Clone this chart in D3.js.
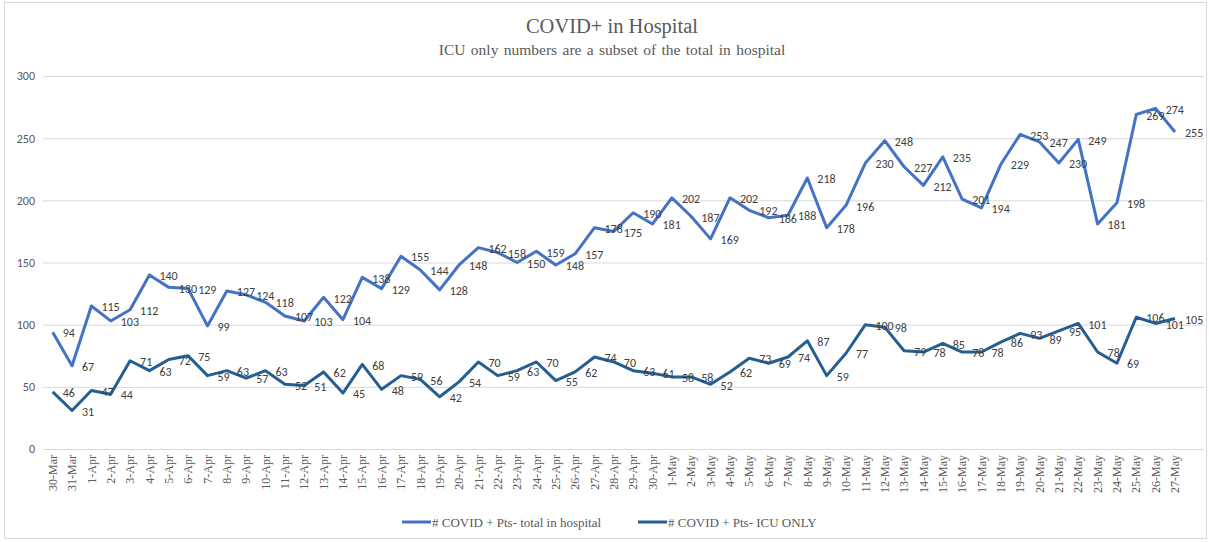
<!DOCTYPE html>
<html>
<head>
<meta charset="utf-8">
<script src="https://cdn.jsdelivr.net/npm/d3@7"></script>
<style>
  body { margin: 0; background: #fff; }
  svg { display: block; }
</style>
</head>
<body>
<svg id="chart"></svg>
<script>
const dates = ["30-Mar", "31-Mar",
  "1-Apr", "2-Apr", "3-Apr", "4-Apr", "5-Apr", "6-Apr", "7-Apr", "8-Apr", "9-Apr", "10-Apr",
  "11-Apr", "12-Apr", "13-Apr", "14-Apr", "15-Apr", "16-Apr", "17-Apr", "18-Apr", "19-Apr", "20-Apr",
  "21-Apr", "22-Apr", "23-Apr", "24-Apr", "25-Apr", "26-Apr", "27-Apr", "28-Apr", "29-Apr", "30-Apr",
  "1-May", "2-May", "3-May", "4-May", "5-May", "6-May", "7-May", "8-May", "9-May", "10-May",
  "11-May", "12-May", "13-May", "14-May", "15-May", "16-May", "17-May", "18-May", "19-May", "20-May",
  "21-May", "22-May", "23-May", "24-May", "25-May", "26-May", "27-May"];

const totalInHospital = [94, 67,
  115, 103, 112, 140, 130, 129, 99, 127, 124, 118,
  107, 103, 122, 104, 138, 129, 155, 144, 128, 148,
  162, 158, 150, 159, 148, 157, 178, 175, 190, 181,
  202, 187, 169, 202, 192, 186, 188, 218, 178, 196,
  230, 248, 227, 212, 235, 201, 194, 229, 253, 247,
  230, 249, 181, 198, 269, 274, 255];

const icuOnly = [46, 31,
  47, 44, 71, 63, 72, 75, 59, 63, 57, 63,
  52, 51, 62, 45, 68, 48, 59, 56, 42, 54,
  70, 59, 63, 70, 55, 62, 74, 70, 63, 61,
  58, 58, 52, 62, 73, 69, 74, 87, 59, 77,
  100, 98, 79, 78, 85, 78, 78, 86, 93, 89,
  95, 101, 78, 69, 106, 101, 105];

const yTicks = [0, 50, 100, 150, 200, 250, 300];

const seriesNames = ["# COVID + Pts- total in hospital", "# COVID + Pts- ICU ONLY"];
const seriesColors = ["#4472C4", "#255E91"];

const width = 1209, height = 542;
const plot = { left: 43, right: 1204, top: 76, bottom: 449 };

const svg = d3.select("#chart").attr("width", width).attr("height", height);

// outer chart border
svg.append("rect")
  .attr("x", 4.5).attr("y", 2.5)
  .attr("width", 1202).attr("height", 536)
  .attr("fill", "#fff")
  .attr("stroke", "#d9d9d9");

// one empty slot at the end, like the source sheet
const bw = (plot.right - plot.left) / (dates.length + 1);
const x = d3.scaleBand()
  .domain(dates)
  .range([plot.left, plot.left + bw * dates.length]);
const cx = d => x(d) + x.bandwidth() / 2;

const y = d3.scaleLinear().domain([0, 300]).range([plot.bottom, plot.top]);

// gridlines
svg.append("g")
  .selectAll("line")
  .data(yTicks)
  .join("line")
  .attr("x1", plot.left).attr("x2", plot.right)
  .attr("y1", d => y(d) + 0.5).attr("y2", d => y(d) + 0.5)
  .attr("stroke", "#d9d9d9")
  .attr("stroke-width", 1);

// y axis labels
const yAxis = svg.append("g")
  .attr("transform", `translate(${plot.left}, 0)`)
  .call(d3.axisLeft(y).tickValues(yTicks).tickSize(0).tickPadding(8));
yAxis.select(".domain").remove();
yAxis.selectAll("text")
  .attr("fill", "#595959")
  .style("font-family", "Carlito, 'Open Sans', sans-serif")
  .style("font-size", "12px");

// x axis labels
const xAxis = svg.append("g")
  .attr("transform", `translate(0, ${plot.bottom})`)
  .call(d3.axisBottom(x).tickSize(0).tickPadding(0));
xAxis.select(".domain").remove();
xAxis.selectAll("text")
  .attr("transform", "rotate(-90)")
  .attr("x", -6)
  .attr("y", 0)
  .attr("dy", "0.35em")
  .attr("text-anchor", "end")
  .attr("fill", "#595959")
  .style("font-family", "'Liberation Serif', 'Times New Roman', serif")
  .style("font-size", "12px");

// lines and data labels
const line = d3.line()
  .x((d, i) => cx(dates[i]))
  .y(d => y(d));

[totalInHospital, icuOnly].forEach((values, k) => {
  svg.append("path")
    .datum(values)
    .attr("fill", "none")
    .attr("stroke", seriesColors[k])
    .attr("stroke-width", 3)
    .attr("stroke-linejoin", "round")
    .attr("d", line);

  svg.append("g")
    .selectAll("text")
    .data(values)
    .join("text")
    .attr("x", (d, i) => cx(dates[i]) + 10)
    .attr("y", d => y(d) + 1)
    .attr("dy", "0.35em")
    .attr("fill", "#404040")
    .style("font-family", "Carlito, 'Open Sans', sans-serif")
    .style("font-size", "12px")
    .text(d => d);
});

// title
svg.append("text")
  .attr("x", 612).attr("y", 33)
  .attr("text-anchor", "middle")
  .attr("fill", "#595959")
  .style("font-family", "'Liberation Serif', 'Times New Roman', serif")
  .style("font-size", "20.5px")
  .text("COVID+ in Hospital");

svg.append("text")
  .attr("x", 612).attr("y", 55)
  .attr("text-anchor", "middle")
  .attr("fill", "#595959")
  .style("font-family", "'Liberation Serif', 'Times New Roman', serif")
  .style("font-size", "15.5px")
  .style("word-spacing", "1.5px")
  .text("ICU only numbers are a subset of the total in hospital");

// legend
const legendX = [402, 638];
const legend = svg.append("g");
seriesNames.forEach((name, k) => {
  legend.append("line")
    .attr("x1", legendX[k]).attr("x2", legendX[k] + 29)
    .attr("y1", 522).attr("y2", 522)
    .attr("stroke", seriesColors[k])
    .attr("stroke-width", 3);
  legend.append("text")
    .attr("x", legendX[k] + 30).attr("y", 522)
    .attr("dy", "0.35em")
    .attr("fill", "#595959")
    .style("font-family", "'Liberation Serif', 'Times New Roman', serif")
    .style("font-size", "13px")
    .text(name);
});
</script>
</body>
</html>
